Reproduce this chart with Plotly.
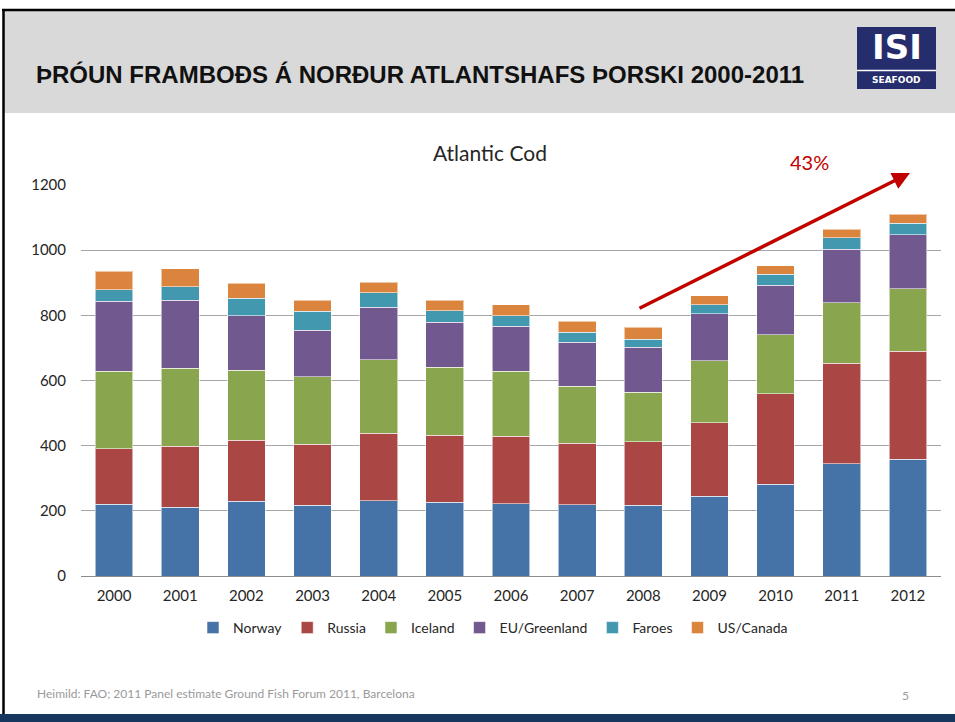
import plotly.graph_objects as go

years = [2000, 2001, 2002, 2003, 2004, 2005, 2006, 2007, 2008, 2009, 2010, 2011, 2012]
year_labels = [str(y) for y in years]

# segment values
norway     = [220, 211, 230, 217, 231, 227, 221, 219, 217, 245, 281, 344, 358]
russia     = [171, 187, 186, 187, 207, 205, 208, 188, 195, 226, 279, 309, 332]
iceland    = [238, 240, 215, 207, 225, 209, 199, 175, 152, 189, 180, 185, 191]
eu_green   = [215, 208, 167, 143, 162, 138, 139, 136, 138, 145, 153, 165, 167]
faroes     = [34, 42, 54, 58, 45, 35, 32, 30, 25, 28, 33, 35, 35]
us_canada  = [58, 55, 47, 34, 31, 32, 33, 34, 36, 27, 26, 26, 27]

series = [
    ("Norway", norway, "#4572A7"),
    ("Russia", russia, "#AA4643"),
    ("Iceland", iceland, "#89A54E"),
    ("EU/Greenland", eu_green, "#71588F"),
    ("Faroes", faroes, "#4198AF"),
    ("US/Canada", us_canada, "#DB843D"),
]

W, H = 955, 722
L, R, T, B = 81, 14, 185, 146
PW, PH = W - L - R, H - T - B

def px(x):
    return (x - L) / PW

def py(y):
    return (H - B - y) / PH

fig = go.Figure()
for name, vals, col in series:
    fig.add_trace(go.Bar(
        x=years, y=vals, name=name,
        marker=dict(color=col, line=dict(color="rgba(255,255,255,0.55)", width=1)),
    ))

FONT = "Lato, 'Liberation Sans', sans-serif"

fig.update_layout(
    width=W, height=H,
    margin=dict(l=L, r=R, t=T, b=B, pad=0),
    barmode="stack", bargap=0.43,
    paper_bgcolor="white", plot_bgcolor="white",
    font=dict(family=FONT, size=14, color="#262626"),
    xaxis=dict(
        range=[1999.5, 2012.5], tickmode="array", tickvals=years, ticktext=year_labels,
        showgrid=False, showline=True, linecolor="#8C8C8C", linewidth=1,
        ticks="", tickfont=dict(size=15, color="#262626"), zeroline=False,
        ticklabelstandoff=6,
    ),
    yaxis=dict(
        range=[0, 1200], dtick=200, showgrid=True, gridcolor="#A6A6A6", gridwidth=1,
        zeroline=False, showline=False, ticks="", ticklabelstandoff=14,
        tickfont=dict(size=15, color="#262626"),
    ),
    legend=dict(
        orientation="h", x=px(493), xanchor="center", y=py(628), yanchor="middle",
        font=dict(size=14, color="#262626"), traceorder="normal",
        itemwidth=30, tracegroupgap=0, bgcolor="rgba(0,0,0,0)",
    ),
    showlegend=True,
)

shapes = []
# header band
shapes.append(dict(type="rect", xref="paper", yref="paper", x0=px(4), x1=px(956), y0=py(113), y1=py(11),
                   fillcolor="#D9D9D9", line=dict(width=0), layer="below"))
# top border
shapes.append(dict(type="line", xref="paper", yref="paper", x0=px(2), x1=px(956), y0=py(10), y1=py(10),
                   line=dict(color="#000000", width=2.5)))
# left border
shapes.append(dict(type="line", xref="paper", yref="paper", x0=px(3.5), x1=px(3.5), y0=py(10), y1=py(714),
                   line=dict(color="#000000", width=2.5)))
# bottom navy band
shapes.append(dict(type="rect", xref="paper", yref="paper", x0=px(0), x1=px(956), y0=py(723), y1=py(714),
                   fillcolor="#17375E", line=dict(width=0)))
# logo box
shapes.append(dict(type="rect", xref="paper", yref="paper", x0=px(857), x1=px(936), y0=py(89), y1=py(27),
                   fillcolor="#252D6C", line=dict(width=0)))
shapes.append(dict(type="line", xref="paper", yref="paper", x0=px(857), x1=px(936), y0=py(70.5), y1=py(70.5),
                   line=dict(color="#FFFFFF", width=1.5)))
fig.update_layout(shapes=shapes)

ann = []
ann.append(dict(text="<b>ÞRÓUN FRAMBOÐS Á NORÐUR ATLANTSHAFS ÞORSKI 2000-2011</b>", xref="paper", yref="paper",
                x=px(34), y=py(74), xanchor="left", yanchor="middle", showarrow=False,
                font=dict(family="'Liberation Sans', Arial, sans-serif", size=24, color="#111111")))
ann.append(dict(text="<b>ISI</b>", xref="paper", yref="paper", x=px(896.5), y=py(47), xanchor="center",
                yanchor="middle", showarrow=False,
                font=dict(family="'DejaVu Sans', sans-serif", size=34, color="#FFFFFF")))
ann.append(dict(text="<b>SEAFOOD</b>", xref="paper", yref="paper", x=px(896.5), y=py(80), xanchor="center",
                yanchor="middle", showarrow=False,
                font=dict(family="'DejaVu Sans', sans-serif", size=9, color="#FFFFFF")))
ann.append(dict(text="Atlantic Cod", xref="paper", yref="paper", x=px(490), y=py(153), xanchor="center",
                yanchor="middle", showarrow=False, font=dict(family=FONT, size=21, color="#262626")))
ann.append(dict(text="43%", xref="paper", yref="paper", x=px(809), y=py(162), xanchor="center",
                yanchor="middle", showarrow=False, font=dict(family=FONT, size=20, color="#C00000")))
ann.append(dict(text="", xref="paper", yref="paper", axref="pixel", ayref="pixel",
                x=px(910), y=py(173), ax=638 - 910, ay=309 - 173,
                showarrow=True, arrowhead=2, arrowsize=1, arrowwidth=3.5, arrowcolor="#C00000",
                standoff=0, startstandoff=0))
ann.append(dict(text="Heimild: FAO; 2011 Panel estimate Ground Fish Forum 2011, Barcelona", xref="paper",
                yref="paper", x=px(35), y=py(693), xanchor="left", yanchor="middle", showarrow=False,
                font=dict(family=FONT, size=12, color="#9A9A9A")))
ann.append(dict(text="5", xref="paper", yref="paper", x=px(905), y=py(695), xanchor="center",
                yanchor="middle", showarrow=False, font=dict(family=FONT, size=12, color="#9A9A9A")))
fig.update_layout(annotations=ann)

fig.write_html("out.html", config={"displayModeBar": False},
               post_script="document.body.style.margin='0';document.body.style.overflow='hidden';")
